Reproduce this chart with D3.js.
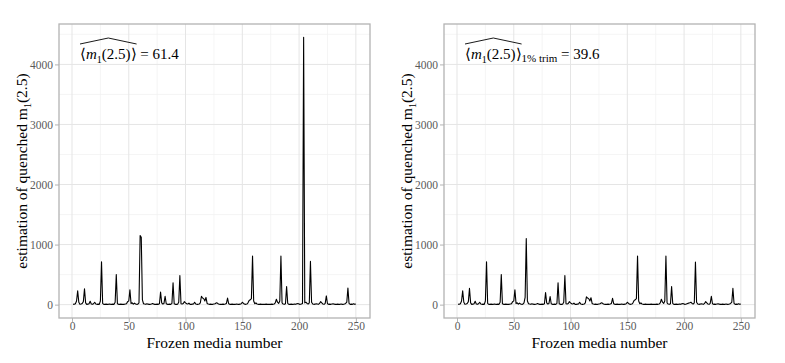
<!DOCTYPE html>
<html>
<head>
<meta charset="utf-8">
<script src="https://cdn.jsdelivr.net/npm/d3@7"></script>
<style>
  body { margin: 0; background: #fff; }
  text { font-family: "Liberation Serif", "Times New Roman", serif; }
</style>
</head>
<body>
<div id="chart"></div>
<script>
// frozen media index 1..250
var mediaIdx = d3.range(1, 251);

// estimated m1(2.5) per frozen medium, plain mean
var meanVals = [
  5, 8, 15, 60, 230, 40, 5, 10, 20, 50,
  265, 30, 5, 8, 15, 55, 10, 5, 15, 40,
  10, 5, 8, 5, 60, 715, 20, 5, 5, 8,
  5, 5, 10, 5, 5, 8, 5, 40, 500, 15,
  5, 5, 8, 5, 5, 5, 10, 15, 50, 60,
  245, 20, 30, 8, 25, 10, 5, 8, 30, 1150,
  1120, 80, 15, 10, 5, 15, 8, 5, 5, 10,
  20, 8, 5, 5, 8, 5, 15, 210, 30, 10,
  20, 140, 15, 5, 5, 8, 5, 20, 365, 15,
  5, 5, 8, 40, 485, 15, 10, 20, 50, 30,
  15, 10, 25, 5, 5, 8, 10, 40, 10, 5,
  5, 10, 30, 140, 110, 100, 60, 120, 20, 10,
  5, 8, 5, 5, 10, 15, 30, 25, 10, 5,
  5, 5, 8, 5, 10, 20, 110, 15, 5, 5,
  8, 5, 5, 5, 10, 5, 5, 8, 15, 40,
  20, 8, 5, 10, 30, 70, 80, 100, 810, 60,
  15, 30, 10, 5, 5, 8, 5, 5, 5, 5,
  8, 5, 5, 5, 5, 8, 5, 10, 30, 90,
  40, 20, 60, 810, 30, 10, 5, 15, 300, 20,
  5, 5, 8, 5, 5, 10, 5, 15, 20, 8,
  5, 10, 20, 4450, 30, 40, 20, 10, 30, 720,
  40, 10, 5, 8, 15, 10, 5, 20, 50, 30,
  10, 5, 20, 145, 15, 5, 8, 5, 10, 15,
  8, 5, 5, 8, 5, 5, 10, 5, 5, 10,
  20, 40, 275, 20, 5, 8, 5, 15, 5, 10
];

// same, 1% trimmed mean
var trimVals = [
  5, 8, 15, 60, 230, 40, 5, 10, 20, 50,
  270, 30, 5, 8, 15, 55, 10, 5, 15, 40,
  10, 5, 8, 5, 60, 715, 20, 5, 5, 8,
  5, 5, 10, 5, 5, 8, 5, 40, 500, 15,
  5, 5, 8, 5, 5, 5, 10, 15, 50, 60,
  245, 20, 30, 8, 25, 10, 5, 8, 30, 120,
  1100, 60, 15, 10, 5, 15, 8, 5, 5, 10,
  20, 8, 5, 5, 8, 5, 15, 200, 30, 10,
  20, 135, 15, 5, 5, 8, 5, 20, 365, 15,
  5, 5, 8, 40, 485, 15, 10, 20, 50, 30,
  15, 10, 25, 5, 5, 8, 10, 40, 10, 5,
  5, 10, 30, 130, 110, 100, 60, 115, 20, 10,
  5, 8, 5, 5, 10, 15, 30, 25, 10, 5,
  5, 5, 8, 5, 10, 20, 105, 15, 5, 5,
  8, 5, 5, 5, 10, 5, 5, 8, 15, 40,
  20, 8, 5, 10, 30, 70, 80, 100, 810, 60,
  15, 30, 10, 5, 5, 8, 5, 5, 5, 5,
  8, 5, 5, 5, 5, 8, 5, 10, 30, 90,
  40, 20, 60, 810, 30, 10, 5, 15, 300, 20,
  5, 5, 8, 5, 5, 10, 5, 15, 20, 8,
  5, 10, 20, 25, 30, 40, 20, 10, 30, 710,
  40, 10, 5, 8, 15, 10, 5, 20, 50, 30,
  10, 5, 20, 140, 15, 5, 8, 5, 10, 15,
  8, 5, 5, 8, 5, 5, 10, 5, 5, 10,
  20, 40, 270, 20, 5, 8, 5, 15, 5, 10
];

var xTicks = [0, 50, 100, 150, 200, 250];
var xMinor = [25, 75, 125, 175, 225];
var yTicks = [0, 1000, 2000, 3000, 4000];
var yMinor = [500, 1500, 2500, 3500, 4500];

var W = 785, H = 363;
var svg = d3.select("#chart")
  .append("svg")
  .attr("width", W)
  .attr("height", H);

// shared scales, ggplot style 5% expansion
var xExt = d3.extent(mediaIdx), yExt = [0, d3.max(meanVals)];
var xPad = (xExt[1] - xExt[0]) * 0.05, yPad = (yExt[1] - yExt[0]) * 0.05;

function drawPanel(left, vals, label) {
  var pw = 311, top = 24, bottom = 318;
  var x = d3.scaleLinear().domain([xExt[0] - xPad, xExt[1] + xPad]).range([left, left + pw]);
  var y = d3.scaleLinear().domain([yExt[0] - yPad, yExt[1] + yPad]).range([bottom, top]);

  var g = svg.append("g");

  // grid
  g.selectAll(".vmin").data(xMinor).enter().append("line")
    .attr("x1", d => x(d)).attr("x2", d => x(d))
    .attr("y1", top).attr("y2", bottom)
    .attr("stroke", "#f1f1f1").attr("stroke-width", 0.7);
  g.selectAll(".hmin").data(yMinor).enter().append("line")
    .attr("x1", left).attr("x2", left + pw)
    .attr("y1", d => y(d)).attr("y2", d => y(d))
    .attr("stroke", "#f1f1f1").attr("stroke-width", 0.7);
  g.selectAll(".vmaj").data(xTicks).enter().append("line")
    .attr("x1", d => x(d)).attr("x2", d => x(d))
    .attr("y1", top).attr("y2", bottom)
    .attr("stroke", "#e5e5e5").attr("stroke-width", 1);
  g.selectAll(".hmaj").data(yTicks).enter().append("line")
    .attr("x1", left).attr("x2", left + pw)
    .attr("y1", d => y(d)).attr("y2", d => y(d))
    .attr("stroke", "#e5e5e5").attr("stroke-width", 1);

  // series
  var line = d3.line()
    .x((d, i) => x(mediaIdx[i]))
    .y(d => y(d));
  g.append("path")
    .datum(vals)
    .attr("d", line)
    .attr("fill", "none")
    .attr("stroke", "#000")
    .attr("stroke-width", 1.1)
    .attr("stroke-linejoin", "round");

  // border
  g.append("rect")
    .attr("x", left).attr("y", top)
    .attr("width", pw).attr("height", bottom - top)
    .attr("fill", "none").attr("stroke", "#b3b3b3").attr("stroke-width", 1.3);

  // axes
  var xa = g.append("g")
    .attr("transform", "translate(0," + bottom + ")")
    .call(d3.axisBottom(x).tickValues(xTicks).tickSize(4).tickPadding(0));
  var ya = g.append("g")
    .attr("transform", "translate(" + left + ",0)")
    .call(d3.axisLeft(y).tickValues(yTicks).tickFormat(d3.format("d")).tickSize(4).tickPadding(2));
  [xa, ya].forEach(function (a) {
    a.select(".domain").remove();
    a.selectAll(".tick line").attr("stroke", "#b3b3b3");
    a.selectAll(".tick text")
      .attr("fill", "#5a5a5a")
      .style("font-size", "11.5px")
      .style("font-family", "'Liberation Serif', serif");
  });

  // axis titles
  g.append("text")
    .attr("x", left + pw / 2).attr("y", 348)
    .attr("text-anchor", "middle")
    .style("font-size", "15.5px")
    .text("Frozen media number");

  var yt = g.append("text")
    .attr("transform", "translate(" + (left - 32) + "," + ((top + bottom) / 2) + ") rotate(-90)")
    .attr("text-anchor", "middle")
    .style("font-size", "15.5px");
  yt.append("tspan").text("estimation of quenched m");
  yt.append("tspan").attr("dy", 4).style("font-size", "10px").text("1");
  yt.append("tspan").attr("dy", -4).text("(2.5)");

  // annotation with hat
  var ax = left + 21, ay = 59;
  var hatTxt = g.append("text").attr("x", ax).attr("y", ay).style("font-size", "15px");
  hatTxt.append("tspan").text("\u27E8");
  hatTxt.append("tspan").style("font-style", "italic").text("m");
  hatTxt.append("tspan").attr("dy", 4).style("font-size", "10px").text("1");
  hatTxt.append("tspan").attr("dy", -4).text("(2.5)\u27E9");
  var bb = hatTxt.node().getBBox();
  var hx0 = bb.x, hx1 = bb.x + bb.width;
  g.append("path")
    .attr("d", "M" + hx0 + "," + (ay - 15) + "L" + ((hx0 + hx1) / 2) + "," + (ay - 21) + "L" + hx1 + "," + (ay - 15))
    .attr("fill", "none").attr("stroke", "#000").attr("stroke-width", 0.9);

  var rest = g.append("text").attr("x", hx1).attr("y", ay).style("font-size", "15px");
  if (label.sub) {
    rest.append("tspan").attr("dy", 3).style("font-size", "11px").text(label.sub);
    rest.append("tspan").attr("dy", -3).text("\u00A0=\u00A0" + label.value);
  } else {
    rest.append("tspan").text("\u00A0=\u00A0" + label.value);
  }
}

drawPanel(59, meanVals, { value: "61.4" });
drawPanel(444, trimVals, { sub: "1% trim", value: "39.6" });
</script>
</body>
</html>
